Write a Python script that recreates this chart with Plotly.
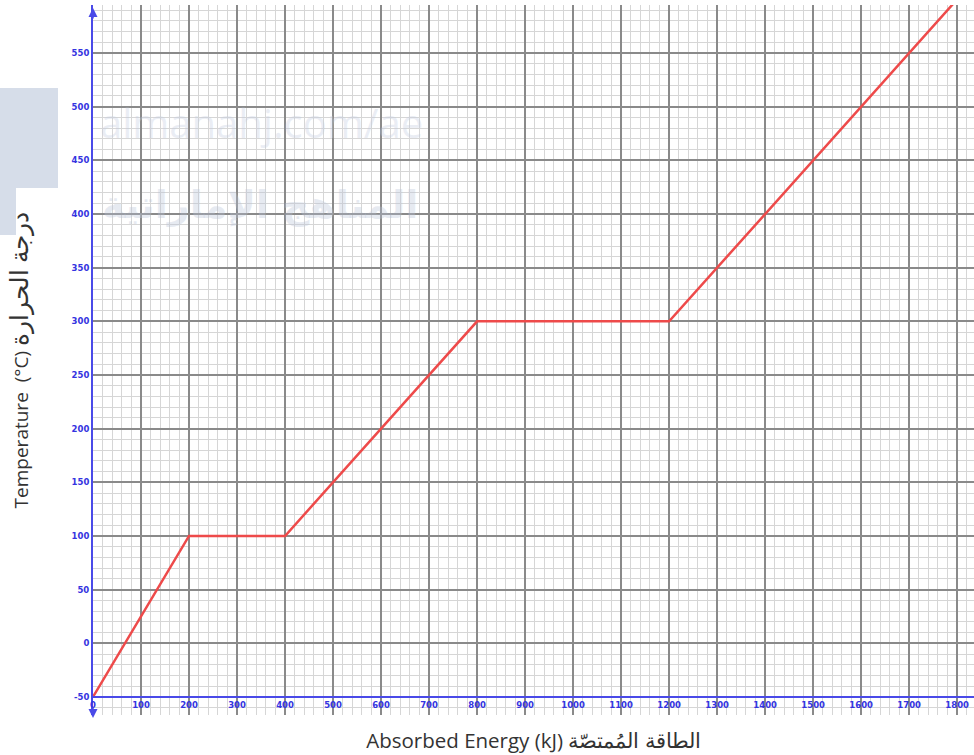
import plotly.graph_objects as go

# Data
energy_kj = [0, 200, 400, 800, 1200, 1800]
temperature_c = [-50, 100, 100, 300, 300, 600]

x_ticks = list(range(0, 1900, 100))
y_ticks = list(range(-50, 600, 50))

x_title = "Absorbed Energy (kJ) الطاقة المُمتصّة"
y_title = "Temperature  (°C) <span style='font-size:25px'>درجة الحرارة</span>"

BLUE = "#4a4ae8"
LABEL_BLUE = "#3434e0"

fig = go.Figure()
fig.add_trace(go.Scatter(
    x=energy_kj, y=temperature_c, mode="lines",
    line=dict(color="#ee4a4a", width=2.5),
    hoverinfo="x+y", showlegend=False,
))

# plot area: x px 93..974, y px 5..715
L, R, T, B = 93, 0, 5, 40
W, H = 974, 755
pw, ph = W - L - R, H - T - B

def px_x(p):
    return (p - L) / pw

def px_y(p):
    return (H - B - p) / ph

tickfont = dict(family="DejaVu Sans", size=8.5, color=LABEL_BLUE, weight="bold")

fig.update_layout(
    width=W, height=H,
    margin=dict(l=L, r=R, t=T, b=B, pad=0),
    paper_bgcolor="white", plot_bgcolor="white",
    font=dict(family="Open Sans, Arial", color="#333333"),
    xaxis=dict(
        range=[0, 1835],
        tickmode="array", tickvals=x_ticks, ticktext=[str(v) for v in x_ticks],
        tickfont=tickfont,
        showgrid=True, gridcolor="#8a8a8a", gridwidth=1.6,
        minor=dict(dtick=20, showgrid=True, gridcolor="#d6d6d6", gridwidth=1),
        zeroline=False,
        showline=True, linecolor=BLUE, linewidth=2,
        anchor="free", position=px_y(697),
        ticks="",
        title=dict(text=x_title, font=dict(size=20.5, color="#333333"), standoff=23),
        automargin=False,
    ),
    yaxis=dict(
        range=[-66.8, 594.7],
        tickmode="array", tickvals=y_ticks, ticktext=[str(v) for v in y_ticks],
        tickfont=tickfont,
        showgrid=True, gridcolor="#8a8a8a", gridwidth=1.6,
        minor=dict(dtick=10, showgrid=True, gridcolor="#d6d6d6", gridwidth=1),
        zeroline=False,
        showline=True, linecolor=BLUE, linewidth=2,
        ticks="",
        title=dict(text=y_title, font=dict(size=19, color="#333333"), standoff=38),
        automargin=False,
    ),
)

# watermark panel on the left
wm = "#d6dde9"
fig.add_shape(type="rect", xref="paper", yref="paper",
              x0=px_x(0), x1=px_x(58), y0=px_y(188), y1=px_y(88),
              fillcolor=wm, line=dict(width=0), layer="below")
fig.add_shape(type="rect", xref="paper", yref="paper",
              x0=px_x(0), x1=px_x(16), y0=px_y(235), y1=px_y(188),
              fillcolor=wm, line=dict(width=0), layer="below")

# faint watermark texts
fig.add_annotation(text="almanahj.com/ae", xref="paper", yref="paper",
                   x=px_x(98), y=px_y(122), xanchor="left", yanchor="middle",
                   showarrow=False,
                   font=dict(size=40, color="rgba(195,205,225,0.35)", family="Open Sans"))
fig.add_annotation(text="المناهج الإماراتية", xref="paper", yref="paper",
                   x=px_x(100), y=px_y(205), xanchor="left", yanchor="middle",
                   showarrow=False,
                   font=dict(size=38, color="rgba(185,195,215,0.35)", family="DejaVu Sans", weight="bold"))

# axis arrows
fig.add_annotation(x=0, y=px_y(8), xref="x", yref="paper", text="", showarrow=True,
                   ax=0, ay=12, arrowhead=2, arrowsize=1.2, arrowwidth=1.5, arrowcolor=BLUE)
fig.add_annotation(x=0, y=px_y(718), xref="x", yref="paper", text="", showarrow=True,
                   ax=0, ay=-12, arrowhead=2, arrowsize=1.2, arrowwidth=1.5, arrowcolor=BLUE)

fig.write_html("out.html", config={"displayModeBar": False},
               post_script="document.body.style.margin='0';")
